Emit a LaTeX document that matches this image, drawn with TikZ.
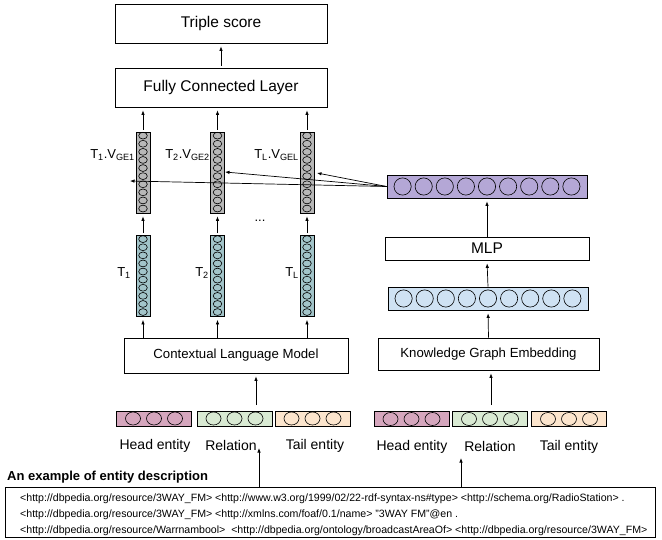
\documentclass[tikz,border=0pt]{standalone}
\usepackage{fontspec}
\setmainfont{Liberation Sans}
\usetikzlibrary{calc}
\usetikzlibrary{arrows.meta}
\definecolor{cGrey}{RGB}{183, 183, 183}
\definecolor{cTeal}{RGB}{162, 196, 201}
\definecolor{cPurple}{RGB}{180, 167, 214}
\definecolor{cBlue}{RGB}{207, 226, 243}
\definecolor{cHead}{RGB}{213, 166, 189}
\definecolor{cRel}{RGB}{217, 234, 211}
\definecolor{cTail}{RGB}{252, 229, 205}
\tikzset{
    myedge/.style={
        arrows={-{Latex[length=4.5pt,width=3.5pt]}},
        line width=0.7pt,
        shorten >=3pt,
        shorten <=2pt
    },
    kgeEdge/.style={
        arrows={-{Latex[length=4.5pt,width=3.5pt]}},
        line width=0.7pt
    },
    boxLayer/.style={
        draw,
        line width=0.8pt,
        inner sep=0pt
    },
    bigText/.style={
        font=\fontsize{15.5}{18}\selectfont
    },
    midText/.style={
        font=\fontsize{13.2}{16}\selectfont
    },
    colVec/.style={
        draw,
        line width=0.8pt,
        minimum width=14pt,
        minimum height=81pt,
        inner sep=0pt
    },
    vecBar/.style={
        draw,
        line width=0.8pt,
        minimum width=200pt,
        minimum height=23pt,
        inner sep=0pt
    },
    entBox/.style={
        draw,
        line width=0.8pt,
        minimum width=75pt,
        minimum height=15pt,
        inner sep=0pt
    },
    entLabel/.style={
        font=\fontsize{14}{16}\selectfont,
        inner sep=0pt
    },
    colLabel/.style={
        font=\fontsize{13}{15}\selectfont,
        inner sep=0pt
    },
    unitCircle/.style={
        line width=0.6pt
    },
}

\begin{document}
\begin{tikzpicture}[x=1pt,y=-1pt]
    \useasboundingbox (0,0) rectangle (662,540);

    % output side
    \node[boxLayer,bigText,minimum width=212pt,minimum height=39pt] (score) at (221,23.5) {Triple score};
    \node[boxLayer,bigText,minimum width=212pt,minimum height=39pt] (fcl) at (221,87.5) {Fully Connected Layer};

    % token vectors
    \node[colVec,fill=cGrey] (g1) at (143,172.5) {};
    \node[colVec,fill=cGrey] (g2) at (217.5,172.5) {};
    \node[colVec,fill=cGrey] (gL) at (307,172.5) {};
    \node[colVec,fill=cTeal] (t1) at (143,276) {};
    \node[colVec,fill=cTeal] (t2) at (217.5,276) {};
    \node[colVec,fill=cTeal] (tL) at (307,276) {};

    \newcommand{\colcircles}[1]{\foreach \i in {1,...,10}{\draw[unitCircle] ($(#1.north)+(0,{8.1*\i-4.05})$) ellipse [x radius=4.3pt, y radius=3.4pt];}}
    \foreach \c in {g1,g2,gL,t1,t2,tL}
    {
        \colcircles{\c};
    }

    \node[colLabel,anchor=east] (lg1) at (135,155) {T\textsubscript{1}.V\textsubscript{GE1}};
    \node[colLabel,anchor=east] (lg2) at (210,155) {T\textsubscript{2}.V\textsubscript{GE2}};
    \node[colLabel,anchor=east] (lgL) at (299,155) {T\textsubscript{L}.V\textsubscript{GEL}};
    \node[colLabel,anchor=east] (lt1) at (131,273) {T\textsubscript{1}};
    \node[colLabel,anchor=east] (lt2) at (209,273) {T\textsubscript{2}};
    \node[colLabel,anchor=east] (ltL) at (299,273) {T\textsubscript{L}};
    \node[colLabel] (dots) at (260,221) {...};

    \node[boxLayer,midText,minimum width=224pt,minimum height=35pt] (clm) at (236,355.5) {Contextual Language Model};

    % graph side
    \node[vecBar,fill=cPurple] (kgv) at (487,186.5) {};
    \node[boxLayer,bigText,minimum width=204pt,minimum height=23pt] (mlp) at (487,248.5) {MLP};
    \node[vecBar,fill=cBlue] (ent) at (488,298.5) {};
    \node[boxLayer,midText,minimum width=221pt,minimum height=32pt] (kge) at (488.5,354) {Knowledge Graph Embedding};

    \foreach \b in {kgv,ent}
    {
        \foreach \i in {-4,...,4}
        {
            \draw[unitCircle] ($(\b.center)+({21.1*\i},0)$) circle [radius=8.6pt];
        }
    }

    % triple inputs
    \node[entBox,fill=cHead] (lhead) at (154,418.5) {};
    \node[entBox,fill=cRel] (lrel) at (234.5,418.5) {};
    \node[entBox,fill=cTail] (ltail) at (312.5,418.5) {};
    \node[entBox,fill=cHead] (rhead) at (411.5,419) {};
    \node[entBox,fill=cRel] (rrel) at (490,419) {};
    \node[entBox,fill=cTail] (rtail) at (569,419) {};

    \foreach \b in {lhead,lrel,ltail,rhead,rrel,rtail}
    {
        \foreach \i in {-1,0,1}
        {
            \draw[unitCircle] ($(\b.center)+({21*\i},0)$) ellipse [x radius=7.5pt, y radius=6.5pt];
        }
    }

    \node[entLabel] (lheadT) at (155,446) {Head entity};
    \node[entLabel] (lrelT) at (231,445) {Relation};
    \node[entLabel] (ltailT) at (315,446) {Tail entity};
    \node[entLabel] (rheadT) at (412,447) {Head entity};
    \node[entLabel] (rrelT) at (490,446) {Relation};
    \node[entLabel] (rtailT) at (569,447) {Tail entity};

    % description
    \node[font=\bfseries\fontsize{13}{15}\selectfont,anchor=west,inner sep=0pt] (title) at (7,477) {An example of entity description};
    \node[boxLayer,minimum width=650pt,minimum height=50pt] (desc) at (330,512) {};
    \node[anchor=west,align=left,inner sep=0pt,font=\fontsize{10.6}{16}\selectfont] (desctext) at (20,515) {%
        <http://dbpedia.org/resource/3WAY\_FM> <http://www.w3.org/1999/02/22-rdf-syntax-ns\#type> <http://schema.org/RadioStation> .\\
        <http://dbpedia.org/resource/3WAY\_FM> <http://xmlns.com/foaf/0.1/name> "3WAY FM"@en .\\
        <http://dbpedia.org/resource/Warrnambool>\ \ <http://dbpedia.org/ontology/broadcastAreaOf> <http://dbpedia.org/resource/3WAY\_FM>};

    \coordinate (lin) at (256,405);
    \coordinate (rin) at (491,405);
    \coordinate (dl) at (259,445);
    \coordinate (dr) at (461,455);
    \coordinate (hit1) at (130,181);
    \coordinate (hit2) at (225,172);
    \coordinate (hitL) at (317,173);

    % connectors
    \draw[myedge] (fcl.north) -- (score.south);
    \foreach \c in {g1,g2,gL}
    {
        \draw[myedge] (\c.north) -- (\c.north |- fcl.south);
    }
    \foreach \t/\g in {t1/g1,t2/g2,tL/gL}
    {
        \draw[myedge] (\t.north) -- (\g.south);
        \draw[myedge,shorten <=0pt] (\t.south |- clm.north) -- (\t.south);
    }
    \draw[myedge,shorten <=0pt] (lin) -- (lin |- clm.south);
    \draw[myedge,shorten <=0pt] (dl |- desc.north) -- (dl);

    \draw[kgeEdge] (kgv.west) -- (hitL);
    \draw[kgeEdge] (kgv.west) -- (hit2);
    \draw[kgeEdge] (kgv.west) -- (hit1);

    \draw[myedge,shorten <=0pt] (mlp.north) -- (kgv.south);
    \draw[myedge,shorten <=0pt] (ent.north) -- (mlp.south);
    \draw[myedge,shorten <=0pt] (kge.north) -- (ent.south);
    \draw[myedge,shorten <=0pt] (rin) -- (rin |- kge.south);
    \draw[myedge,shorten <=0pt] (dr |- desc.north) -- (dr);
\end{tikzpicture}
\end{document}
